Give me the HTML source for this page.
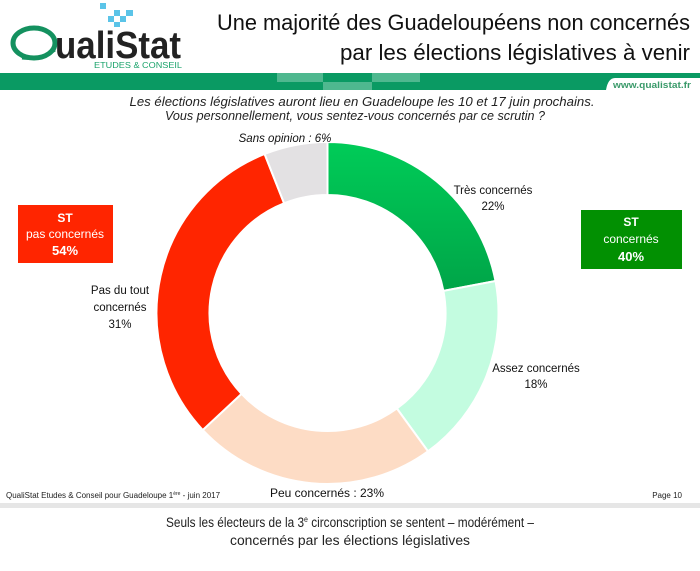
<!DOCTYPE html>
<html><head><meta charset="utf-8"><style>
html,body{margin:0;padding:0;background:#fff;}
svg{display:block;font-family:"Liberation Sans",sans-serif;}
</style></head><body>
<svg width="700" height="571" viewBox="0 0 700 571" xmlns="http://www.w3.org/2000/svg">
<defs>
<linearGradient id="g1" x1="0" y1="0" x2="0" y2="1"><stop offset="0" stop-color="#00cc58"/><stop offset="1" stop-color="#00a548"/></linearGradient>
</defs>
<!-- logo -->
<g fill="#5bc4e8">
<rect x="100" y="3" width="6" height="6"/><rect x="114" y="10" width="6" height="6"/><rect x="126" y="10" width="7" height="6"/><rect x="108" y="16" width="6" height="6"/><rect x="120" y="16" width="6" height="6"/><rect x="114" y="22" width="6" height="5"/>
</g>
<ellipse cx="34" cy="43" rx="21" ry="15" fill="none" stroke="#14915f" stroke-width="5"/>
<path d="M22 58 Q40 60 55 50" fill="none" stroke="#14915f" stroke-width="3"/>
<text x="55" y="58" font-size="38" font-weight="bold" fill="#222" textLength="126" lengthAdjust="spacingAndGlyphs">ualiStat</text>
<text x="94" y="68" font-size="8" fill="#1aa36b" textLength="88" lengthAdjust="spacingAndGlyphs">ETUDES &amp; CONSEIL</text>
<!-- title -->
<text x="690" y="30" font-size="22" fill="#111" text-anchor="end" textLength="473" lengthAdjust="spacingAndGlyphs">Une majorité des Guadeloupéens non concernés</text>
<text x="690" y="60" font-size="22" fill="#111" text-anchor="end" textLength="350" lengthAdjust="spacingAndGlyphs">par les élections législatives à venir</text>
<!-- band -->
<path d="M0 73 H700 V78 H615 Q608 78 606 90 H0 Z" fill="#0a9a63"/>
<rect x="277" y="73" width="46" height="9" fill="#4fb88f"/>
<rect x="372" y="73" width="48" height="9" fill="#4fb88f"/>
<rect x="323" y="82" width="49" height="8" fill="#4fb88f"/>
<text x="613" y="88" font-size="9" font-weight="bold" fill="#3a9a6a" textLength="78" lengthAdjust="spacingAndGlyphs">www.qualistat.fr</text>
<!-- question -->
<text x="362" y="106" font-size="12.5" font-style="italic" fill="#222" text-anchor="middle" textLength="465" lengthAdjust="spacingAndGlyphs">Les élections législatives auront lieu en Guadeloupe les 10 et 17 juin prochains.</text>
<text x="355" y="120" font-size="12.5" font-style="italic" fill="#222" text-anchor="middle" textLength="380" lengthAdjust="spacingAndGlyphs">Vous personnellement, vous sentez-vous concernés par ce scrutin ?</text>
<!-- donut -->
<g stroke="#fff" stroke-width="2">
<path d="M327.5 142 A171 171 0 0 1 495.5 281 L443.4 290.9 A118 118 0 0 0 327.5 195 Z" fill="url(#g1)"/>
<path d="M495.5 281 A171 171 0 0 1 428 451.3 L396.9 408.5 A118 118 0 0 0 443.4 290.9 Z" fill="#c3fce0"/>
<path d="M428 451.3 A171 171 0 0 1 202.8 430 L241.5 393.8 A118 118 0 0 0 396.9 408.5 Z" fill="#fddcc5"/>
<path d="M202.8 430 A171 171 0 0 1 264.6 154 L284.1 203.3 A118 118 0 0 0 241.5 393.8 Z" fill="#ff2500"/>
<path d="M264.6 154 A171 171 0 0 1 327.5 142 L327.5 195 A118 118 0 0 0 284.1 203.3 Z" fill="#e3e1e3"/>
</g>
<g font-size="11.5" fill="#111" text-anchor="middle">
<text x="285" y="142" font-style="italic">Sans opinion : 6%</text>
<text x="493" y="194">Très concernés</text><text x="493" y="210">22%</text>
<text x="536" y="372">Assez concernés</text><text x="536" y="388">18%</text>
<text x="120" y="294">Pas du tout</text><text x="120" y="311">concernés</text><text x="120" y="328">31%</text>
<text x="327" y="497" font-size="12">Peu concernés : 23%</text>
</g>
<!-- boxes -->
<rect x="18" y="205" width="95" height="58" fill="#ff2500"/>
<g fill="#fff" font-size="12" text-anchor="middle" font-weight="bold">
<text x="65" y="222">ST</text><text x="65" y="238" font-weight="normal">pas concernés</text><text x="65" y="255" font-size="13">54%</text>
</g>
<rect x="581" y="210" width="101" height="59" fill="#029002"/>
<g fill="#fff" font-size="12" text-anchor="middle" font-weight="bold">
<text x="631" y="226">ST</text><text x="631" y="243" font-weight="normal">concernés</text><text x="631" y="261" font-size="13">40%</text>
</g>
<!-- footer -->
<text x="6" y="498" font-size="8" fill="#222">QualiStat Etudes &amp; Conseil  pour Guadeloupe 1<tspan font-size="5" dy="-3">ère</tspan><tspan dy="3">  -  juin 2017</tspan></text>
<text x="682" y="498" font-size="8" fill="#222" text-anchor="end">Page 10</text>
<rect x="0" y="503" width="700" height="5" fill="#e6e6e6"/>
<text x="350" y="527" font-size="13.5" fill="#222" text-anchor="middle" textLength="368" lengthAdjust="spacingAndGlyphs">Seuls les électeurs de la 3<tspan font-size="8" dy="-5">e</tspan><tspan dy="5"> circonscription se sentent – modérément –</tspan></text>
<text x="350" y="545" font-size="13.5" fill="#222" text-anchor="middle" textLength="240" lengthAdjust="spacingAndGlyphs">concernés par les élections législatives</text>
</svg>
</body></html>
